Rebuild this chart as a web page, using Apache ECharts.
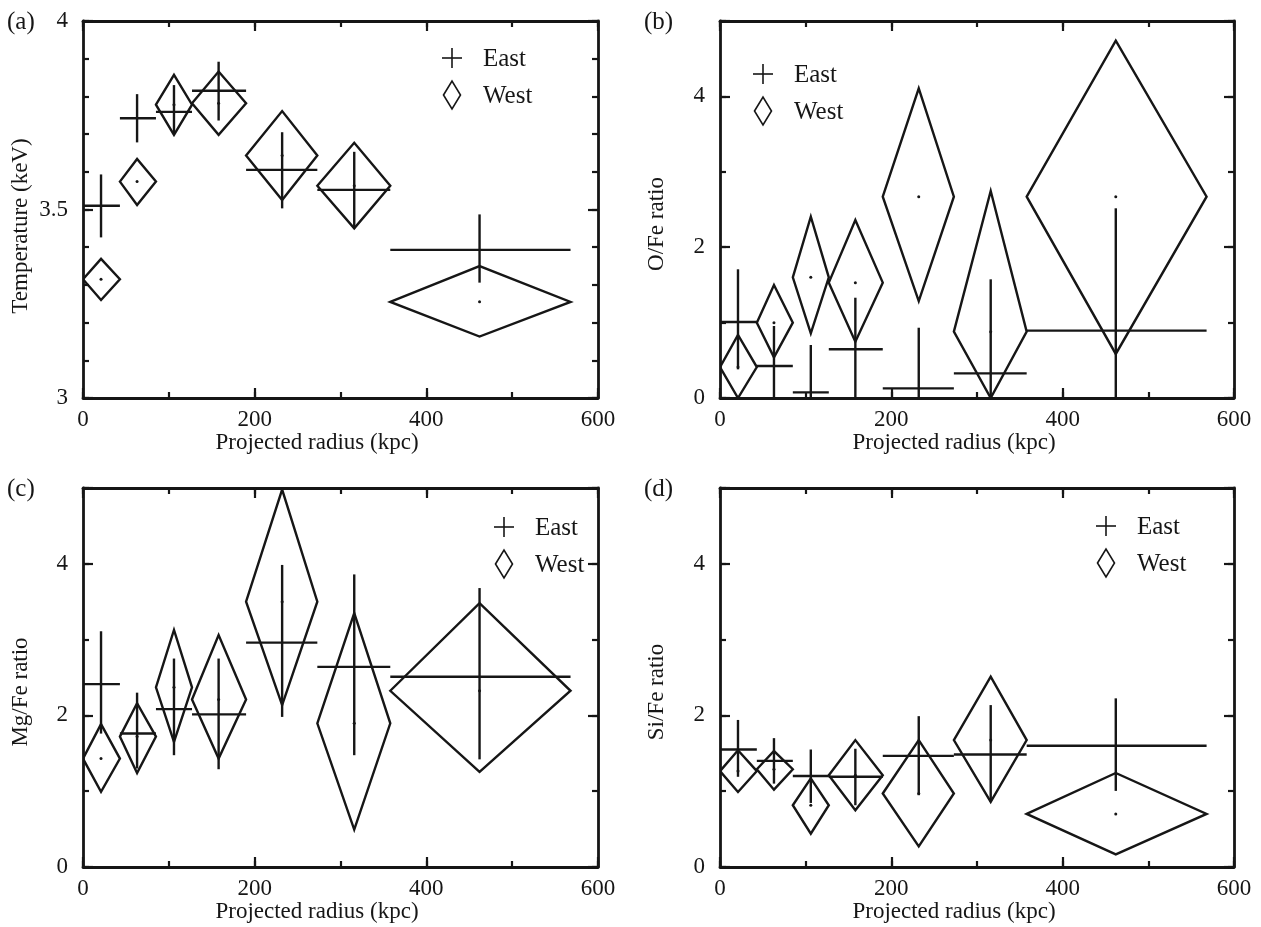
<!DOCTYPE html>
<html>
<head>
<meta charset="utf-8">
<title>East / West radial profiles</title>
<script src="https://cdn.jsdelivr.net/npm/echarts@6/dist/echarts.min.js"></script>
<style>
  html, body { margin: 0; padding: 0; background: #fff; }
  #chart { width: 1261px; height: 927px; }
</style>
</head>
<body>
<div id="chart"></div>
<script>
// radial bins (kpc), same for both sides
const binCenter = [21, 63, 106, 158, 232, 316, 462];
const binLow = [0, 43, 85, 127, 190, 273, 358];
const binHigh = [43, 85, 127, 190, 273, 358, 568];

// (a) temperature
const tempEast = [3.51, 3.742, 3.759, 3.815, 3.605, 3.552, 3.393];
const tempEastLow = [3.426, 3.678, 3.702, 3.736, 3.503, 3.45, 3.306];
const tempEastHigh = [3.593, 3.806, 3.83, 3.892, 3.705, 3.653, 3.487];
const tempWest = [3.315, 3.574, 3.778, 3.782, 3.643, 3.563, 3.255];
const tempWestLow = [3.26, 3.512, 3.698, 3.698, 3.525, 3.45, 3.163];
const tempWestHigh = [3.369, 3.634, 3.857, 3.866, 3.761, 3.677, 3.35];

// (b) O/Fe
const oEast = [1.008, 0.424, 0.075, 0.646, 0.128, 0.327, 0.893];
const oEastLow = [0.38, 0, 0, 0, 0, 0, 0];
const oEastHigh = [1.707, 0.955, 0.703, 1.33, 0.932, 1.574, 2.516];
const oWest = [0.41, 0.999, 1.6, 1.53, 2.67, 0.88, 2.67];
const oWestLow = [0, 0.54, 0.858, 0.747, 1.286, 0, 0.584];
const oWestHigh = [0.836, 1.499, 2.405, 2.36, 4.107, 2.745, 4.74];

// (c) Mg/Fe
const mgEast = [2.413, 1.762, 2.083, 2.013, 2.96, 2.64, 2.51];
const mgEastLow = [1.76, 1.3, 1.475, 1.29, 1.98, 1.475, 1.42];
const mgEastHigh = [3.11, 2.3, 2.75, 2.75, 3.985, 3.86, 3.68];
const mgWest = [1.43, 1.72, 2.37, 2.21, 3.5, 1.895, 2.325];
const mgWestLow = [0.991, 1.24, 1.65, 1.43, 2.135, 0.494, 1.255];
const mgWestHigh = [1.885, 2.16, 3.127, 3.06, 4.98, 3.35, 3.48];

// (d) Si/Fe
const siEast = [1.55, 1.4, 1.2, 1.19, 1.466, 1.485, 1.6];
const siEastLow = [1.19, 1.1, 0.845, 0.815, 0.947, 0.859, 1.004];
const siEastHigh = [1.94, 1.7, 1.55, 1.56, 1.99, 2.136, 2.225];
const siWest = [1.265, 1.29, 0.815, 1.21, 0.97, 1.674, 0.7];
const siWestLow = [0.99, 1.02, 0.44, 0.749, 0.273, 0.859, 0.167];
const siWestHigh = [1.54, 1.53, 1.17, 1.674, 1.674, 2.51, 1.24];

const xTickLabels = [0, 200, 400, 600];

const FONT = '"Liberation Serif", "Times New Roman", serif';
const INK = '#161616';

const panels = [
  {
    letter: '(a)', yName: 'Temperature (keV)', yMin: 3, yMax: 4, yLabelStep: 0.5, yTickStep: 0.1,
    east: [tempEast, tempEastLow, tempEastHigh], west: [tempWest, tempWestLow, tempWestHigh],
    box: {left: 83, top: 21, width: 515, height: 377}, legend: [452, 58], yTitle: [21, 226], xTitle: [317, 443]
  },
  {
    letter: '(b)', yName: 'O/Fe ratio', yMin: 0, yMax: 5, yLabelStep: 2, yTickStep: 1,
    east: [oEast, oEastLow, oEastHigh], west: [oWest, oWestLow, oWestHigh],
    box: {left: 720, top: 21, width: 514, height: 377}, legend: [763, 74], yTitle: [657, 224], xTitle: [954, 443]
  },
  {
    letter: '(c)', yName: 'Mg/Fe ratio', yMin: 0, yMax: 5, yLabelStep: 2, yTickStep: 1,
    east: [mgEast, mgEastLow, mgEastHigh], west: [mgWest, mgWestLow, mgWestHigh],
    box: {left: 83, top: 488, width: 515, height: 379}, legend: [504, 527], yTitle: [21, 692], xTitle: [317, 912]
  },
  {
    letter: '(d)', yName: 'Si/Fe ratio', yMin: 0, yMax: 5, yLabelStep: 2, yTickStep: 1,
    east: [siEast, siEastLow, siEastHigh], west: [siWest, siWestLow, siWestHigh],
    box: {left: 720, top: 488, width: 514, height: 379}, legend: [1106, 526], yTitle: [657, 692], xTitle: [954, 912]
  }
];

function isMultiple(v, step) {
  const r = v / step;
  return Math.abs(r - Math.round(r)) < 1e-6;
}

// one axis side: a "minor" axis (short ticks, labels, line) and an overlay with long ticks
function axisPair(gridIndex, position, min, max, labelStep, tickStep, showLabels, labelList) {
  const isX = position === 'bottom' || position === 'top';
  const minor = {
    gridIndex: gridIndex, type: 'value', position: position, min: min, max: max, interval: tickStep,
    splitLine: {show: false},
    axisLine: {show: true, onZero: false, lineStyle: {color: INK, width: 2.8}},
    axisTick: {show: true, inside: true, length: 6, lineStyle: {color: INK, width: 2.2}},
    axisLabel: {
      show: showLabels, margin: isX ? 10 : 15, fontFamily: FONT, fontSize: 23, color: INK,
      showMaxLabel: true, showMinLabel: true,
      formatter: function (v) {
        if (labelList) return labelList.indexOf(Math.round(v)) >= 0 && isMultiple(v, labelStep) ? String(Math.round(v)) : '';
        return isMultiple(v, labelStep) ? String(+v.toFixed(2)) : '';
      }
    }
  };
  const major = {
    gridIndex: gridIndex, type: 'value', position: position, min: min, max: max, interval: labelStep,
    splitLine: {show: false},
    axisLine: {show: false, onZero: false},
    axisTick: {show: true, inside: true, length: 10, lineStyle: {color: INK, width: 2.2}},
    axisLabel: {show: false}
  };
  return [minor, major];
}

function crossItem(params, api) {
  const x = api.value(0), xl = api.value(1), xh = api.value(2);
  const y = api.value(3), yl = api.value(4), yh = api.value(5);
  const a = api.coord([xl, y]), b = api.coord([xh, y]);
  const c = api.coord([x, yl]), d = api.coord([x, yh]);
  const style = {stroke: INK, lineWidth: 2.4};
  return {
    type: 'group',
    children: [
      {type: 'line', shape: {x1: a[0], y1: a[1], x2: b[0], y2: b[1]}, style: style},
      {type: 'line', shape: {x1: c[0], y1: c[1], x2: d[0], y2: d[1]}, style: style}
    ]
  };
}

function diamondItem(params, api) {
  const x = api.value(0), xl = api.value(1), xh = api.value(2);
  const y = api.value(3), yl = api.value(4), yh = api.value(5);
  const l = api.coord([xl, y]), r = api.coord([xh, y]);
  const t = api.coord([x, yh]), b = api.coord([x, yl]);
  const m = api.coord([x, y]);
  return {
    type: 'group',
    children: [
      {type: 'polygon', shape: {points: [l, t, r, b]}, style: {fill: 'none', stroke: INK, lineWidth: 2.4, lineJoin: 'miter'}},
      {type: 'circle', shape: {cx: m[0], cy: m[1], r: 1.5}, style: {fill: INK}}
    ]
  };
}

function rows(vals) {
  return binCenter.map((c, k) => [c, binLow[k], binHigh[k], vals[0][k], vals[1][k], vals[2][k]]);
}

const grids = [], xAxes = [], yAxes = [], series = [], graphics = [];

panels.forEach((p, i) => {
  grids.push(Object.assign({containLabel: false}, p.box));
  xAxes.push(...axisPair(i, 'bottom', 0, 600, 200, 100, true, xTickLabels));
  xAxes.push(...axisPair(i, 'top', 0, 600, 200, 100, false));
  yAxes.push(...axisPair(i, 'left', p.yMin, p.yMax, p.yLabelStep, p.yTickStep, true));
  yAxes.push(...axisPair(i, 'right', p.yMin, p.yMax, p.yLabelStep, p.yTickStep, false));

  series.push({
    name: 'East', type: 'custom', xAxisIndex: 4 * i, yAxisIndex: 4 * i,
    renderItem: crossItem, data: rows(p.east), clip: true, silent: true
  });
  series.push({
    name: 'West', type: 'custom', xAxisIndex: 4 * i, yAxisIndex: 4 * i,
    renderItem: diamondItem, data: rows(p.west), clip: true, silent: true
  });

  // panel letter and axis titles
  graphics.push({
    type: 'text', x: p.box.left - 76, y: p.box.top + 1,
    style: {text: p.letter, font: '25px ' + FONT, fill: INK, align: 'left', verticalAlign: 'middle',
      textAlign: 'left', textVerticalAlign: 'middle'}
  });
  graphics.push({
    type: 'text', x: p.xTitle[0], y: p.xTitle[1],
    style: {text: 'Projected radius (kpc)', font: '23px ' + FONT, fill: INK, align: 'center', verticalAlign: 'middle',
      textAlign: 'center', textVerticalAlign: 'middle'}
  });
  graphics.push({
    type: 'text', x: p.yTitle[0], y: p.yTitle[1], rotation: Math.PI / 2,
    style: {text: p.yName, font: '23px ' + FONT, fill: INK, align: 'center', verticalAlign: 'middle',
      textAlign: 'center', textVerticalAlign: 'middle'}
  });

  // legend
  const lx = p.legend[0], ly = p.legend[1];
  graphics.push({type: 'line', shape: {x1: lx - 10, y1: ly, x2: lx + 10, y2: ly}, style: {stroke: INK, lineWidth: 1.6}});
  graphics.push({type: 'line', shape: {x1: lx, y1: ly - 10, x2: lx, y2: ly + 10}, style: {stroke: INK, lineWidth: 1.6}});
  graphics.push({
    type: 'polygon', shape: {points: [[lx - 8.5, ly + 37], [lx, ly + 23], [lx + 8.5, ly + 37], [lx, ly + 51]]},
    style: {fill: 'none', stroke: INK, lineWidth: 1.6}
  });
  graphics.push({
    type: 'text', x: lx + 31, y: ly + 1,
    style: {text: 'East', font: '25px ' + FONT, fill: INK, align: 'left', verticalAlign: 'middle',
      textAlign: 'left', textVerticalAlign: 'middle'}
  });
  graphics.push({
    type: 'text', x: lx + 31, y: ly + 38,
    style: {text: 'West', font: '25px ' + FONT, fill: INK, align: 'left', verticalAlign: 'middle',
      textAlign: 'left', textVerticalAlign: 'middle'}
  });
});

const chart = echarts.init(document.getElementById('chart'));
chart.setOption({
  backgroundColor: '#fff',
  animation: false,
  grid: grids,
  xAxis: xAxes,
  yAxis: yAxes,
  series: series,
  graphic: graphics
});
</script>
</body>
</html>
